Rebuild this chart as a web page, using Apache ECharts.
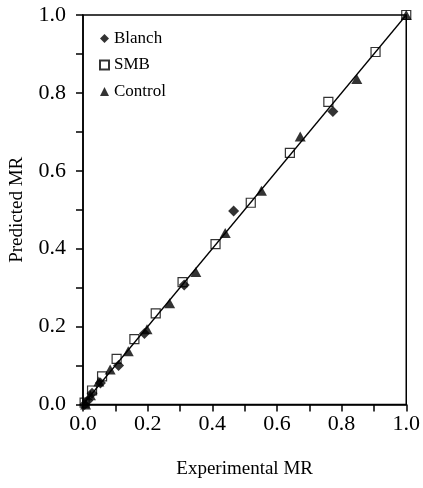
<!DOCTYPE html>
<html>
<head>
<meta charset="utf-8">
<script src="https://cdn.jsdelivr.net/npm/echarts@6/dist/echarts.min.js"></script>
<style>
html,body{margin:0;padding:0;background:#fff;}
#chart{width:423px;height:488px;}
</style>
</head>
<body>
<div id="chart"></div>
<script>
// Data
var blanchX  = [0.005, 0.015, 0.028, 0.054, 0.110, 0.190, 0.313, 0.466, 0.773];
var blanchY  = [0.000, 0.010, 0.029, 0.055, 0.100, 0.182, 0.307, 0.497, 0.752];
var smbX     = [0.005, 0.028, 0.059, 0.104, 0.159, 0.225, 0.308, 0.410, 0.519, 0.640, 0.759, 0.905, 1.000];
var smbY     = [0.005, 0.036, 0.072, 0.117, 0.168, 0.234, 0.314, 0.412, 0.518, 0.646, 0.777, 0.905, 1.000];
var controlX = [0.008, 0.023, 0.049, 0.084, 0.140, 0.198, 0.268, 0.349, 0.440, 0.552, 0.672, 0.847, 1.000];
var controlY = [0.000, 0.024, 0.059, 0.090, 0.137, 0.193, 0.260, 0.340, 0.440, 0.549, 0.688, 0.836, 1.000];
var fitX = [0, 1];
var fitY = [0, 1];
var seriesNames = ['Blanch', 'SMB', 'Control'];
var xTitle = 'Experimental MR';
var yTitle = 'Predicted MR';

function pairs(xs, ys){ return xs.map(function(x,i){ return [x, ys[i]]; }); }
var FONT = '"Liberation Serif","Times New Roman",serif';
function fmt(v){ return Math.round(v*10) % 2 === 0 ? v.toFixed(1) : ''; }

var chart = echarts.init(document.getElementById('chart'), null, {renderer:'canvas'});
var axisCommon = {
  min: 0, max: 1, interval: 0.1,
  axisLine: {show:true, lineStyle:{color:'#000', width:1.5}},
  axisTick: {show:true, inside:false, length:7, lineStyle:{color:'#000', width:1.5}},
  splitLine: {show:false},
  nameLocation: 'middle',
  nameTextStyle: {fontFamily: FONT, fontSize: 19, color:'#000'}
};
chart.setOption({
  animation: false,
  backgroundColor: '#fff',
  grid: {left:79, right:16, top:15, bottom:83.5, show:true, borderColor:'#000', borderWidth:1.5, backgroundColor:'transparent'},
  legend: {
    orient: 'vertical', left: 94, top: 25,
    itemWidth: 9, itemHeight: 9, itemGap: 9.5,
    textStyle: {fontFamily: FONT, fontSize: 17, color:'#000', lineHeight: 17},
    data: seriesNames
  },
  xAxis: Object.assign({}, axisCommon, {
    type:'value', name: xTitle, nameGap: 55,
    axisLabel: {fontFamily: FONT, fontSize: 22, color:'#000', margin: 9, formatter: fmt}
  }),
  yAxis: Object.assign({}, axisCommon, {
    type:'value', name: yTitle, nameGap: 56,
    axisLabel: {fontFamily: FONT, fontSize: 22, color:'#000', margin: 17, formatter: fmt}
  }),
  series: [
    {type:'line', data: pairs(fitX, fitY), showSymbol:false, symbol:'none', silent:true,
     lineStyle:{color:'#000', width:1.3}, z:1},
    {name: seriesNames[0], type:'scatter', data: pairs(blanchX, blanchY), symbol:'diamond', symbolSize:11,
     itemStyle:{color:'#000'}, clip:false, z:3},
    {name: seriesNames[1], type:'scatter', data: pairs(smbX, smbY), symbol:'rect', symbolSize:9,
     itemStyle:{color:'rgba(255,255,255,0)', borderColor:'#000', borderWidth:1.2}, clip:false, z:3},
    {name: seriesNames[2], type:'scatter', data: pairs(controlX, controlY), symbol:'triangle', symbolSize:[11,10],
     itemStyle:{color:'#000'}, clip:false, z:3}
  ]
});
</script>
</body>
</html>
